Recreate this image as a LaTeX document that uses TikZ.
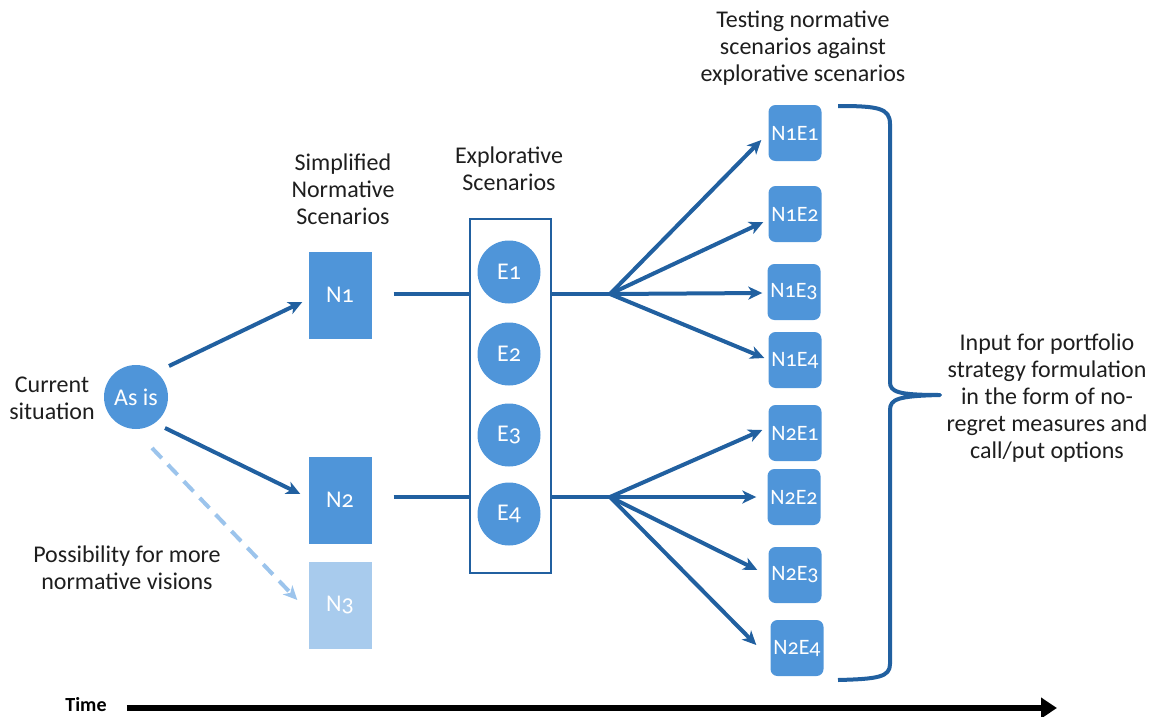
\documentclass[tikz,border=0pt]{standalone}
\usepackage{fontspec}
\setmainfont[Numbers=OldStyle]{Carlito}
\usetikzlibrary{arrows.meta,calc}
\definecolor{boxblue}{RGB}{79,149,217}
\definecolor{lineblue}{RGB}{33,96,160}
\definecolor{paleblue}{RGB}{168,203,237}
\definecolor{dashblue}{RGB}{156,196,236}
\definecolor{txt}{RGB}{30,30,30}
\begin{document}
\begin{tikzpicture}[x=1pt,y=-1pt,
  lbl/.style={align=center,font=\fontsize{24}{27}\selectfont,text=txt,inner sep=0},
  intext/.style={text=white,font=\fontsize{24}{26}\selectfont,inner sep=0},
  normbox/.style={intext,fill=boxblue,minimum width=63pt,minimum height=87pt},
  pairbox/.style={intext,font=\fontsize{22}{24}\selectfont,fill=boxblue,rounded corners=7pt,minimum width=53pt,minimum height=56pt},
  disc/.style={intext,circle,fill=boxblue,minimum size=64pt},
  conn/.style={draw=lineblue,line width=4pt},
  arr/.style={conn,-{Stealth[length=14pt,width=13pt,inset=4pt]}},
  dasharr/.style={draw=dashblue,line width=4pt,dash pattern=on 14pt off 9pt,
    -{Stealth[length=14pt,width=13pt,inset=4pt]}}
]
\useasboundingbox (0,0) rectangle (1156,717);

% labels
\node[lbl] (cur) at (52,398) {Current\\situation};
\node[lbl] (more) at (127,568) {Possibility for more\\normative visions};
\node[lbl] (simp) at (343,189) {Simplified\\Normative\\Scenarios};
\node[lbl] (expl) at (509,169) {Explorative\\Scenarios};
\node[lbl] (test) at (803,48) {Testing normative\\scenarios against\\explorative scenarios};
\node[lbl] (input) at (1047,398) {Input for portfolio\\strategy formulation\\in the form of no-\\regret measures and\\call/put options};

% current state and normative scenarios
\node[disc] (asis) at (136,397) {As is};
\node[normbox] (n1) at (340,295) {N1};
\node[normbox] (n2) at (340,500) {N2};
\node[normbox,fill=paleblue] (n3) at (340,605) {N3};

\draw[arr] ($(asis.center)+(33,-31)$) -- ($(n1.west)+(-6,7)$);
\draw[arr] ($(asis.center)+(29,31)$) -- ($(n2.west)+(-8,-6)$);
\draw[dasharr] ($(asis.center)+(16,51)$) -- ($(n3.west)+(-11,-5)$);

% explorative scenarios
\node[draw=lineblue,line width=2pt,minimum width=81pt,minimum height=354pt,inner sep=0] (ebox) at (510.5,396) {};
\node[disc,minimum size=63pt] (e1) at (509,272) {E1};
\node[disc,minimum size=63pt] (e2) at (509,354) {E2};
\node[disc,minimum size=63pt] (e3) at (509,435) {E3};
\node[disc,minimum size=63pt] (e4) at (509,514) {E4};

\coordinate (f1) at (610,294);
\coordinate (f2) at (610,497);
\draw[conn] ($(n1.east)+(22,-1)$) -- (ebox.west |- f1);
\draw[conn] ($(n2.east)+(22,-3)$) -- (ebox.west |- f2);
\draw[conn] (ebox.east |- f1) -- (f1);
\draw[conn] (ebox.east |- f2) -- (f2);

% tested combinations
\node[pairbox] (n1e1) at (795,133) {N1E1};
\node[pairbox] (n1e2) at (795,214) {N1E2};
\node[pairbox] (n1e3) at (794,292) {N1E3};
\node[pairbox] (n1e4) at (795,360) {N1E4};
\node[pairbox] (n2e1) at (795,433) {N2E1};
\node[pairbox] (n2e2) at (794,497) {N2E2};
\node[pairbox] (n2e3) at (795,575) {N2E3};
\node[pairbox] (n2e4) at (797,648) {N2E4};

\draw[arr] (f1) -- ($(n1e1.west)+(-7,7)$);
\draw[arr] (f1) -- ($(n1e2.west)+(-5,8)$);
\draw[arr] (f1) -- ($(n1e3.west)+(-5,1)$);
\draw[arr] (f1) -- ($(n1e4.west)+(-4,-2)$);
\draw[arr] (f2) -- ($(n2e1.west)+(-6,-3)$);
\draw[arr] (f2) -- ($(n2e2.west)+(-11,0)$);
\draw[arr] (f2) -- ($(n2e3.west)+(-11,-5)$);
\draw[arr] (f2) -- ($(n2e4.west)+(-14,-3)$);

% brace
\draw[draw=lineblue,line width=4pt,line join=round]
  (838,106) .. controls (878,106) and (890,108) .. (890,124)
  -- (890,382) .. controls (890,392) and (898,395) .. (940,395)
  .. controls (898,396) and (890,399) .. (890,410)
  -- (890,664) .. controls (890,677) and (878,679) .. (838,680);

% time axis
\node[font=\bfseries\fontsize{20}{24}\selectfont,text=black,inner sep=0] (time) at (86,705) {Time};
\coordinate (tend) at (1057,708);
\draw[line width=6pt,-{Triangle[length=16pt,width=20pt]}] ($(time.east)+(20,3)$) -- (tend);
\end{tikzpicture}
\end{document}
